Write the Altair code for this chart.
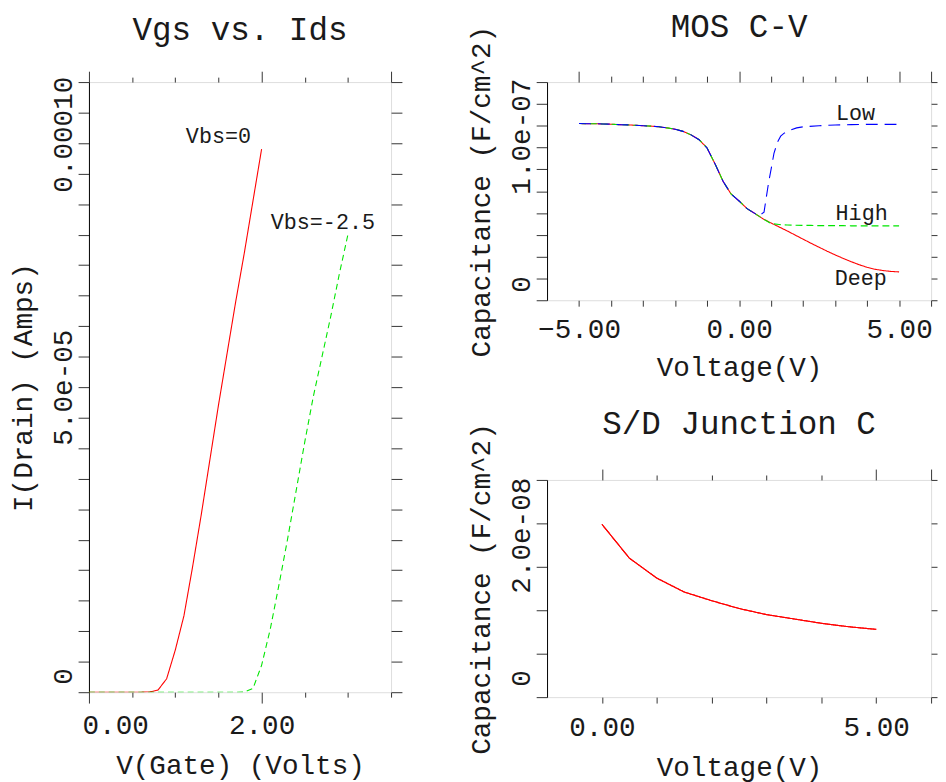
import altair as alt
import pandas as pd

FONT = "Liberation Mono"
TXT = "#1a1a1a"
RED = "#ff0000"
GREEN = "#00e600"
BLUE = "#0000ff"

# ---------------- Vgs vs. Ids ----------------
vg_vbs0 = [0.0, 0.1, 0.2, 0.3, 0.4, 0.5, 0.6, 0.7, 0.8, 0.9, 1.0,
           1.1, 1.2, 1.3, 1.4, 1.5, 1.6, 1.7, 1.8, 1.9, 2.0]
id_vbs0 = [0.0, 0.0, 0.0, 0.0, 0.0, 0.0, 0.0, 3e-8, 3.5e-7, 2.2e-6, 6.9e-6,
           1.25e-5, 2.05e-5, 2.9e-5, 3.8e-5, 4.7e-5, 5.55e-5, 6.4e-5, 7.2e-5, 8.05e-5, 8.9e-5]

vg_vbs25 = [0.0, 0.1, 0.2, 0.3, 0.4, 0.5, 0.6, 0.7, 0.8, 0.9, 1.0,
            1.1, 1.2, 1.3, 1.4, 1.5, 1.6, 1.7, 1.8, 1.9, 2.0,
            2.1, 2.2, 2.3, 2.4, 2.5, 2.6, 2.7, 2.8, 2.9, 3.0]
id_vbs25 = [0.0, 0.0, 0.0, 0.0, 0.0, 0.0, 0.0, 0.0, 0.0, 0.0, 0.0,
            0.0, 0.0, 0.0, 0.0, 0.0, 0.0, 0.0, 2e-8, 6e-7, 4.4e-6,
            1.03e-5, 1.75e-5, 2.5e-5, 3.3e-5, 4.1e-5, 4.85e-5, 5.5e-5, 6.15e-5, 6.85e-5, 7.5e-5]

ids_labels = ["Vbs=0", "Vbs=-2.5"]
ids_label_x = [1.50, 2.71]
ids_label_y = [9.12e-5, 7.71e-5]

# ---------------- MOS C-V ----------------
cv_v = [-5.0, -4.75, -4.5, -4.25, -4.0, -3.75, -3.5, -3.25, -3.0, -2.75, -2.5,
        -2.25, -2.0, -1.75, -1.5, -1.25, -1.0, -0.75, -0.5, -0.25, 0.0,
        0.25, 0.5, 0.75, 1.0, 1.25, 1.5, 1.75, 2.0, 2.25, 2.5,
        2.75, 3.0, 3.25, 3.5, 3.75, 4.0, 4.25, 4.5, 4.75, 5.0]
cv_deep = [8.10e-8, 8.09e-8, 8.09e-8, 8.08e-8, 8.07e-8, 8.05e-8, 8.04e-8, 8.02e-8, 8.00e-8, 7.98e-8, 7.95e-8,
           7.90e-8, 7.84e-8, 7.74e-8, 7.58e-8, 7.36e-8, 6.98e-8, 6.25e-8, 5.45e-8, 4.87e-8, 4.55e-8,
           4.20e-8, 3.97e-8, 3.73e-8, 3.54e-8, 3.36e-8, 3.18e-8, 2.99e-8, 2.80e-8, 2.61e-8, 2.43e-8,
           2.25e-8, 2.08e-8, 1.92e-8, 1.77e-8, 1.63e-8, 1.51e-8, 1.42e-8, 1.36e-8, 1.32e-8, 1.30e-8]
cv_high = [8.10e-8, 8.09e-8, 8.09e-8, 8.08e-8, 8.07e-8, 8.05e-8, 8.04e-8, 8.02e-8, 8.00e-8, 7.98e-8, 7.95e-8,
           7.90e-8, 7.84e-8, 7.74e-8, 7.58e-8, 7.36e-8, 6.98e-8, 6.25e-8, 5.45e-8, 4.87e-8, 4.55e-8,
           4.20e-8, 3.97e-8, 3.73e-8, 3.52e-8, 3.47e-8, 3.45e-8, 3.44e-8, 3.43e-8, 3.43e-8, 3.42e-8,
           3.42e-8, 3.42e-8, 3.42e-8, 3.41e-8, 3.41e-8, 3.41e-8, 3.41e-8, 3.41e-8, 3.41e-8, 3.41e-8]
cv_low_v = [-5.0, -4.75, -4.5, -4.25, -4.0, -3.75, -3.5, -3.25, -3.0, -2.75, -2.5,
            -2.25, -2.0, -1.75, -1.5, -1.25, -1.0, -0.75, -0.5, -0.25, 0.0,
            0.25, 0.5, 0.62, 0.78, 0.92, 1.0, 1.09, 1.2, 1.3, 1.4,
            1.6, 1.8, 2.0, 2.5, 3.0, 3.5, 4.0, 4.5, 5.0]
cv_low = [8.10e-8, 8.09e-8, 8.09e-8, 8.08e-8, 8.07e-8, 8.05e-8, 8.04e-8, 8.02e-8, 8.00e-8, 7.98e-8, 7.95e-8,
          7.90e-8, 7.84e-8, 7.74e-8, 7.58e-8, 7.36e-8, 6.98e-8, 6.25e-8, 5.45e-8, 4.87e-8, 4.55e-8,
          4.20e-8, 3.97e-8, 3.86e-8, 4.04e-8, 5.37e-8, 6.0e-8, 6.73e-8, 7.25e-8, 7.52e-8, 7.65e-8,
          7.80e-8, 7.90e-8, 7.95e-8, 8.0e-8, 8.03e-8, 8.05e-8, 8.06e-8, 8.06e-8, 8.06e-8]

cv_labels = ["Low", "High", "Deep"]
cv_label_x = [3.64, 3.83, 3.80]
cv_label_y = [8.57e-8, 4.0e-8, 1.0e-8]

# ---------------- S/D Junction C ----------------
sd_v = [0.0, 0.5, 1.0, 1.5, 2.0, 2.5, 3.0, 3.5, 4.0, 4.5, 5.0]
sd_c = [1.99e-8, 1.60e-8, 1.37e-8, 1.21e-8, 1.11e-8, 1.02e-8, 0.95e-8, 0.90e-8, 0.85e-8, 0.81e-8, 0.78e-8]

# ---------------- helpers ----------------
AX = dict(labelFont=FONT, labelFontSize=28, labelColor=TXT, titleFont=FONT, titleFontSize=28,
          titleColor=TXT, titleFontWeight="normal", grid=False, labelOverlap=False,
          labelFlush=False, labelBound=False, tickColor="#333333", tickWidth=1, domain=False)


def cond(test, yes, no):
    return {"condition": {"test": test, "value": yes}, "value": no}


def cond2(t1, v1, t2, v2, no):
    return {"condition": [{"test": t1, "value": v1}, {"test": t2, "value": v2}], "value": no}


def title(text, off):
    return alt.TitleParams(text, font=FONT, fontSize=33, fontWeight="normal", color=TXT,
                           anchor="middle", baseline="alphabetic", frame="group", offset=off)


def lin(lo, hi):
    return alt.Scale(domain=[lo, hi], nice=False, zero=False)


def line_layer(df, color, dash, xs, ys, xaxis, yaxis):
    mk = alt.Chart(df).mark_line(color=color, strokeWidth=1.1, strokeDash=dash, clip=True)
    return mk.encode(x=alt.X("v:Q", scale=xs, axis=xaxis), y=alt.Y("c:Q", scale=ys, axis=yaxis))


def text_layer(df, xs, ys):
    return alt.Chart(df).mark_text(font=FONT, fontSize=22, color=TXT, align="center",
                                   baseline="middle").encode(
        x=alt.X("v:Q", scale=xs, axis=None), y=alt.Y("c:Q", scale=ys, axis=None), text="t:N")


# ---------------- left panel ----------------
xs_l = lin(0, 3.5)
ys_l = lin(0, 1e-4)
xt_l = [0.0, 0.5, 1.0, 1.5, 2.0, 2.5, 3.0, 3.5]
yt_l = [round(i * 5e-6, 12) for i in range(21)]
major_l = "datum.value == 0 || datum.value == 2"

x_bot_l = alt.Axis(orient="bottom", values=xt_l, tickSize=cond(major_l, 11, 5),
                   labelExpr=f"{major_l} ? format(datum.value, '.2f') : ''",
                   labelAlign=cond("datum.value == 0", "left", "center"),
                   labelOffset=cond("datum.value == 0", -7, 0),
                   labelBaseline="top", labelPadding=9,
                   title="V(Gate)  (Volts)", titlePadding=12, **AX)
x_top_l = alt.Axis(orient="top", values=xt_l, tickSize=cond(major_l + " || datum.value == 3.5", 11, 5),
                   labels=False, title=None, **AX)
y_left_l = alt.Axis(orient="left", values=yt_l, tickSize=11, labelAngle=270,
                    labelExpr="datum.value == 0 ? '0' : abs(datum.value - 5e-5) < 1e-12 ? '5.0e-05' : "
                              "abs(datum.value - 1e-4) < 1e-12 ? '0.00010' : ''",
                    labelAlign=cond2("datum.value == 0", "left", "datum.value > 9.9e-5", "right", "center"),
                    labelOffset=cond2("datum.value == 0", -8, "datum.value > 9.9e-5", -6, 0),
                    labelBaseline="alphabetic", labelPadding=7,
                    title="I(Drain)  (Amps)", titlePadding=12,
                    **{**AX, "domain": True, "domainColor": "#000000", "domainWidth": 1})
y_right_l = alt.Axis(orient="right", values=yt_l, tickSize=11, labels=False, title=None, **AX)

df_vbs0 = pd.DataFrame({"v": vg_vbs0, "c": id_vbs0})
df_vbs25 = pd.DataFrame({"v": vg_vbs25, "c": id_vbs25})
df_ids_lab = pd.DataFrame({"t": ids_labels, "v": ids_label_x, "c": ids_label_y})

left = alt.layer(
    line_layer(df_vbs0, RED, [1, 0], xs_l, ys_l, x_bot_l, y_left_l),
    line_layer(df_vbs25, GREEN, [6, 4], xs_l, ys_l, x_top_l, y_right_l),
    text_layer(df_ids_lab, xs_l, ys_l),
).resolve_axis(x="independent", y="independent").properties(
    width=306, height=618, title=title("Vgs vs. Ids", -2))

# ---------------- top right panel ----------------
xs_cv = lin(-6, 6)
ys_cv = lin(0, 1e-7)
xt_cv = [-5.0, -4.0, -3.0, -2.0, -1.0, 0.0, 1.0, 2.0, 3.0, 4.0, 5.0, 6.0]
yt_cv = [round(i * 1e-8, 12) for i in range(11)]
major_cv = "datum.value == -5 || datum.value == 0 || datum.value == 5 || datum.value == 6"

x_bot_cv = alt.Axis(orient="bottom", values=xt_cv, tickSize=6,
                    labelExpr="datum.value == -5 || datum.value == 0 || datum.value == 5 ? format(datum.value, '.2f') : ''",
                    labelBaseline="top", labelPadding=10,
                    title="Voltage(V)", titlePadding=10, **AX)
x_top_cv = alt.Axis(orient="top", values=xt_cv, tickSize=cond(major_cv, 11, 6), labels=False, title=None, **AX)
y_left_cv = alt.Axis(orient="left", values=yt_cv, tickSize=11, labelAngle=270,
                     labelExpr="datum.value == 0 ? '0' : abs(datum.value - 1e-7) < 1e-14 ? '1.0e-07' : ''",
                     labelAlign=cond2("datum.value == 0", "left", "datum.value > 9.9e-8", "right", "center"),
                     labelOffset=cond2("datum.value == 0", -8, "datum.value > 9.9e-8", -4, 0),
                     labelBaseline="alphabetic", labelPadding=7,
                     title="Capacitance (F/cm^2)", titlePadding=12,
                     **{**AX, "domain": True, "domainColor": "#000000", "domainWidth": 1})
y_right_cv = alt.Axis(orient="right", values=yt_cv, tickSize=6, labels=False, title=None, **AX)

df_deep = pd.DataFrame({"v": cv_v, "c": cv_deep})
df_high = pd.DataFrame({"v": cv_v, "c": cv_high})
df_low = pd.DataFrame({"v": cv_low_v, "c": cv_low})
df_cv_lab = pd.DataFrame({"t": cv_labels, "v": cv_label_x, "c": cv_label_y})

cv = alt.layer(
    line_layer(df_deep, RED, [1, 0], xs_cv, ys_cv, x_bot_cv, y_left_cv),
    line_layer(df_high, GREEN, [7, 4], xs_cv, ys_cv, x_top_cv, y_right_cv),
    line_layer(df_low, BLUE, [12, 7], xs_cv, ys_cv, None, None),
    text_layer(df_cv_lab, xs_cv, ys_cv),
).resolve_axis(x="independent", y="independent").properties(
    width=389, height=221, title=title("MOS C-V", -45))

# ---------------- bottom right panel ----------------
xs_sd = lin(-1, 6)
ys_sd = lin(0, 2.5e-8)
xt_sd = [0.0, 1.0, 2.0, 3.0, 4.0, 5.0, 6.0]
yt_sd = [round(i * 5e-9, 14) for i in range(6)]
major_sd = "datum.value == 0 || datum.value == 5 || datum.value == 6"

x_bot_sd = alt.Axis(orient="bottom", values=xt_sd, tickSize=6,
                    labelExpr="datum.value == 0 || datum.value == 5 ? format(datum.value, '.2f') : ''",
                    labelBaseline="top", labelPadding=11,
                    title="Voltage(V)", titlePadding=12, **AX)
x_top_sd = alt.Axis(orient="top", values=xt_sd, tickSize=cond(major_sd, 11, 5), labels=False, title=None, **AX)
y_left_sd = alt.Axis(orient="left", values=yt_sd, tickSize=11, labelAngle=270,
                     labelExpr="datum.value == 0 ? '0' : abs(datum.value - 2e-8) < 1e-14 ? '2.0e-08' : ''",
                     labelAlign=cond("datum.value == 0", "left", "center"),
                     labelOffset=cond("datum.value == 0", -11, 12),
                     labelBaseline="alphabetic", labelPadding=7,
                     title="Capacitance (F/cm^2)", titlePadding=12,
                     **{**AX, "domain": True, "domainColor": "#000000", "domainWidth": 1})
y_right_sd = alt.Axis(orient="right", values=yt_sd, tickSize=6, labels=False, title=None, **AX)

df_sd = pd.DataFrame({"v": sd_v, "c": sd_c})
sd = alt.layer(
    line_layer(df_sd, RED, [1, 0], xs_sd, ys_sd, x_bot_sd, y_left_sd),
    line_layer(df_sd, RED, [1, 0], xs_sd, ys_sd, x_top_sd, y_right_sd),
).resolve_axis(x="independent", y="independent").properties(
    width=389, height=220, title=title("S/D Junction C", -44))

right = alt.vconcat(cv, sd, spacing=182, bounds="flush")
chart = alt.hconcat(left, right, spacing=158, bounds="flush").properties(
    padding={"left": 1, "top": -3, "right": 0, "bottom": 0}
).configure_view(stroke="#808080", strokeWidth=1.5).configure(background="white")

chart.save("out.html", embed_options={"renderer": "svg", "actions": False})
